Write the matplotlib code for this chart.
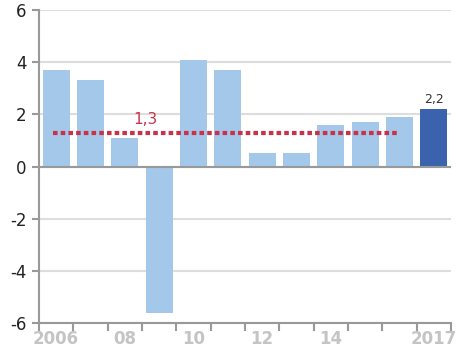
import numpy as np
import matplotlib.pyplot as plt
from matplotlib.ticker import FixedLocator

years = [2006, 2007, 2008, 2009, 2010, 2011, 2012, 2013, 2014, 2015, 2016, 2017]
values = [3.7, 3.3, 1.1, -5.6, 4.1, 3.7, 0.5, 0.5, 1.6, 1.7, 1.9, 2.2]
avg = 1.3
label_pos = {0: "2006", 2: "08", 4: "10", 6: "12", 8: "14", 11: "2017"}

fig = plt.figure(figsize=(4.7, 3.54), dpi=100)
ax = fig.add_axes([39 / 470, 31 / 354, 412 / 470, 313 / 354])

x = np.arange(len(years))
colors = ["#a4c8ea"] * (len(years) - 1) + ["#3a62ad"]
ax.bar(x, values, width=0.78, color=colors, zorder=2)

# average line over 2006-2016
ax.plot([-0.1, 10], [avg, avg], color="#c8334a", lw=3, ls=(0, (1.1, 0.75)), zorder=3)
ax.text(2.6, avg + 0.22, "1,3", color="#c8334a", fontsize=11, ha="center", va="bottom")
ax.text(11, values[-1] + 0.12, "2,2", color="#333333", fontsize=9, ha="center", va="bottom")

ax.set_xlim(-0.5, 11.5)
ax.set_ylim(-6, 6)
ax.set_yticks([-6, -4, -2, 0, 2, 4, 6])
ax.set_yticklabels(["-6", "-4", "-2", "0", "2", "4", "6"], fontsize=12, color="#222222")
ax.grid(axis="y", color="#dddddd", lw=1.5, zorder=0)
ax.axhline(0, color="#999999", lw=1.5, zorder=4)

ax.xaxis.set_major_locator(FixedLocator(np.arange(-0.5, 12, 1)))
ax.set_xticklabels([])
ax.xaxis.set_minor_locator(FixedLocator(list(label_pos.keys())))
ax.set_xticklabels(list(label_pos.values()), minor=True, fontweight="bold")
ax.tick_params(axis="x", which="major", length=6, width=1.5, color="#999999")
ax.tick_params(axis="x", which="minor", length=0, pad=5, labelsize=12, labelcolor="#c4c4c4")
ax.tick_params(axis="y", length=5, width=1.5, color="#999999", pad=4)

for s in ["top", "right"]:
    ax.spines[s].set_visible(False)
for s in ["left", "bottom"]:
    ax.spines[s].set_color("#999999")
    ax.spines[s].set_linewidth(1.5)

fig.savefig("out.png", dpi=100)
